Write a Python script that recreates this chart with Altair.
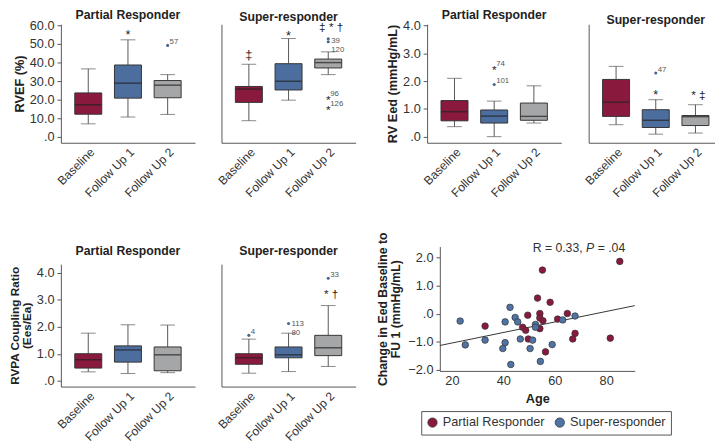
import altair as alt
import pandas as pd

FONT = "Liberation Sans"
TIMES = ["Baseline", "Follow Up 1", "Follow Up 2"]
TIME_COLORS = ["#8a1a3d", "#4c6e9f", "#a5a6a8"]
GROUPS = ["Partial Responder", "Super-responder"]
GROUP_COLORS = ["#8a1a3d", "#5073a6"]
STATS = ["low", "q1", "median", "q3", "high"]

# box summaries per time point: (low whisker, Q1, median, Q3, high whisker)
RVEF_PARTIAL = [(6.9, 12.1, 17.2, 23.6, 36.6), (10.6, 20.8, 28.9, 38.7, 52.3), (12.0, 21.0, 27.8, 30.3, 33.5)]
RVEF_SUPER = [(8.6, 18.5, 25.7, 27.1, 39.1), (19.7, 25.2, 29.9, 39.4, 53.0), (33.5, 37.1, 40.0, 41.9, 45.8)]
EED_PARTIAL = [(0.36, 0.57, 0.90, 1.30, 2.10), (0.0, 0.49, 0.74, 0.96, 1.28), (0.49, 0.59, 0.73, 1.21, 1.83)]
EED_SUPER = [(0.43, 0.73, 1.24, 2.06, 2.53), (0.09, 0.33, 0.59, 0.97, 1.33), (0.13, 0.40, 0.72, 0.76, 1.15)]
RVPA_PARTIAL = [(0.34, 0.48, 0.79, 1.01, 1.77), (0.28, 0.70, 1.15, 1.30, 2.08), (0.31, 0.38, 0.97, 1.26, 2.07)]
RVPA_SUPER = [(0.29, 0.62, 0.86, 1.01, 1.55), (0.35, 0.86, 0.97, 1.26, 1.77), (0.54, 0.94, 1.23, 1.69, 2.79)]

# outliers: (time, value, kind)
RVEF_PARTIAL_OUT = [("Follow Up 2", 49.3, "circle")]
RVEF_SUPER_OUT = [("Follow Up 2", 52.9, "circle"), ("Follow Up 2", 51.3, "circle"),
                  ("Follow Up 2", 21.3, "star"), ("Follow Up 2", 15.8, "star")]
EED_PARTIAL_OUT = [("Follow Up 1", 2.52, "star"), ("Follow Up 1", 1.88, "circle")]
EED_SUPER_OUT = [("Follow Up 1", 2.29, "circle")]
RVPA_PARTIAL_OUT = []
RVPA_SUPER_OUT = [("Baseline", 1.69, "circle"), ("Follow Up 1", 2.13, "circle"), ("Follow Up 2", 3.80, "circle")]

# case-number labels: (time, value, text)
RVEF_PARTIAL_LAB = [("Follow Up 2", 49.3, "57")]
RVEF_SUPER_LAB = [("Follow Up 2", 52.1, "39\n120"), ("Follow Up 2", 21.3, "96"), ("Follow Up 2", 15.8, "126")]
EED_PARTIAL_LAB = [("Follow Up 1", 2.52, "74"), ("Follow Up 1", 1.88, "101")]
EED_SUPER_LAB = [("Follow Up 1", 2.29, "47")]
RVPA_PARTIAL_LAB = []
RVPA_SUPER_LAB = [("Baseline", 1.69, "4"), ("Follow Up 1", 2.13, "113\n80"), ("Follow Up 2", 3.80, "33")]

# significance symbols: (time, value, text)
RVEF_PARTIAL_SIG = [("Follow Up 1", 56.0, "*")]
RVEF_SUPER_SIG = [("Baseline", 45.0, "‡"), ("Follow Up 1", 55.2, "*"), ("Follow Up 2", 59.5, "‡ * †")]
EED_PARTIAL_SIG = []
EED_SUPER_SIG = [("Follow Up 1", 1.57, "*"), ("Follow Up 2", 1.55, "* ‡")]
RVPA_PARTIAL_SIG = []
RVPA_SUPER_SIG = [("Follow Up 2", 3.24, "* †")]

# scatter: age vs change in Eed baseline to FU1
AGE_PARTIAL = [85.3, 55.2, 53.3, 58.2, 54.2, 64.9, 49.5, 54.2, 55.4, 61.1, 32.9, 47.5, 48.7, 54.2, 49.7, 67.9, 67.0, 81.6, 56.4]
CHG_PARTIAL = [1.87, 1.56, 0.56, 0.41, 0.01, 0.01, -0.05, -0.15, -0.25, -0.19, -0.44, -0.48, -0.59, -0.53, -0.90, -0.70, -0.90, -0.87, -1.36]
AGE_SUPER = [23.2, 25.2, 32.9, 40.7, 40.7, 39.8, 42.6, 42.9, 44.6, 45.6, 46.6, 51.4, 50.4, 52.5, 52.5, 54.4, 59.0, 63.1, 67.9]
CHG_SUPER = [-0.26, -1.11, -0.94, -0.29, -1.03, -1.24, 0.23, -1.81, -0.13, -0.29, -0.90, -0.94, -1.24, -0.38, -0.48, -1.70, -1.10, -0.22, -0.08]
STAT_TEXT = ["R = 0.33,", "P", "= .04"]

LINE = "#555555"
TXT = "#333333"
W = 137
SHIFT = 13  # scatter plot sits a little right of the panel above it


def box_panel(title, rows, outs, labs, sigs, domain, ticks, ytitle, left, height, toff, tsize=13):
    sdf = pd.DataFrame([dict(time=t, **dict(zip(STATS, r))) for t, r in zip(TIMES, rows)])
    xenc = alt.X("time:N", sort=TIMES,
                 scale=alt.Scale(domain=TIMES, paddingInner=0.32, paddingOuter=0.35),
                 axis=alt.Axis(title=None, labelAngle=-45, ticks=False, labelFontSize=12.3,
                               labelColor=TXT, domainColor=LINE, labelPadding=3))
    yscale = alt.Scale(domain=domain, nice=False, zero=False)
    if left:
        yaxis = alt.Axis(title=ytitle, values=ticks,
                         labelExpr="datum.value == 0 ? '.0' : format(datum.value, '.1f')",
                         tickSize=4, tickColor=LINE, domainColor=LINE, labelFontSize=13,
                         labelColor=TXT, labelPadding=3, titleFontSize=tsize, titleFontWeight="bold",
                         titleColor="#222", titlePadding=3, titleLineHeight=12, grid=False)
    else:
        yaxis = alt.Axis(title=None, labels=False, ticks=False, domainColor=LINE, grid=False)

    def Y(f):
        return alt.Y(f"{f}:Q", scale=yscale, axis=yaxis)

    color = alt.Color("time:N", scale=alt.Scale(domain=TIMES, range=TIME_COLORS), legend=None)
    base = alt.Chart(sdf)
    layers = [
        base.mark_rule(color=LINE, strokeWidth=1).encode(x=xenc, y=Y("low"), y2="q1"),
        base.mark_rule(color=LINE, strokeWidth=1).encode(x=xenc, y=Y("q3"), y2="high"),
        base.mark_tick(color=LINE, size=15, thickness=1).encode(x=xenc, y=Y("low")),
        base.mark_tick(color=LINE, size=15, thickness=1).encode(x=xenc, y=Y("high")),
        base.mark_bar(stroke="#333", strokeWidth=1).encode(x=xenc, y=Y("q1"), y2="q3", color=color),
        base.mark_tick(color="#222", size=27, thickness=1.5).encode(x=xenc, y=Y("median")),
    ]
    if outs:
        odf = pd.DataFrame(outs, columns=["time", "value", "kind"])
        circ = odf[odf.kind == "circle"]
        star = odf[odf.kind == "star"]
        if len(circ):
            layers.append(alt.Chart(circ).mark_point(filled=True, size=10, color="#4a6591", opacity=1)
                          .encode(x=xenc, y=Y("value")))
        if len(star):
            layers.append(alt.Chart(star).mark_text(text="*", fontSize=12, color="#222", dy=3)
                          .encode(x=xenc, y=Y("value")))
    if labs:
        ldf = pd.DataFrame(labs, columns=["time", "value", "text"])
        single = ldf[~ldf.text.str.contains("\n")]
        multi = ldf[ldf.text.str.contains("\n")]
        if len(single):
            layers.append(alt.Chart(single).mark_text(align="left", baseline="bottom", dx=2, dy=1,
                                                      fontSize=8, color="#555")
                          .encode(x=xenc, y=Y("value"), text="text:N"))
        if len(multi):
            layers.append(alt.Chart(multi).mark_text(align="left", baseline="middle", dx=3, dy=1,
                                                     fontSize=8, color="#555", lineBreak="\n",
                                                     lineHeight=9)
                          .encode(x=xenc, y=Y("value"), text="text:N"))
    if sigs:
        gdf = pd.DataFrame(sigs, columns=["time", "value", "text"])
        multi_sym = gdf[gdf.text.str.len() > 1]
        one_sym = gdf[gdf.text.str.len() == 1]
        if len(one_sym):
            layers.append(alt.Chart(one_sym).mark_text(fontSize=13, color="#222", baseline="middle", dy=2)
                          .encode(x=xenc, y=Y("value"), text="text:N"))
        if len(multi_sym):
            layers.append(alt.Chart(multi_sym).mark_text(fontSize=12, color="#222", baseline="middle",
                                                         dy=1, dx=3)
                          .encode(x=xenc, y=Y("value"), text="text:N"))
    return alt.layer(*layers).properties(
        width=W, height=height,
        title=alt.Title(title, fontSize=12.5, fontWeight="bold", color="#222", offset=toff))


A1 = box_panel("Partial Responder", RVEF_PARTIAL, RVEF_PARTIAL_OUT, RVEF_PARTIAL_LAB, RVEF_PARTIAL_SIG,
               [-3.32, 60.7], [0, 10, 20, 30, 40, 50, 60], "RVEF (%)", True, 121, -2)
A2 = box_panel("Super-responder", RVEF_SUPER, RVEF_SUPER_OUT, RVEF_SUPER_LAB, RVEF_SUPER_SIG,
               [-3.32, 60.7], None, None, False, 121, -2)
B1 = box_panel("Partial Responder", EED_PARTIAL, EED_PARTIAL_OUT, EED_PARTIAL_LAB, EED_PARTIAL_SIG,
               [-0.22, 4.046], [0, 1, 2, 3, 4], "RV Eed (mmHg/mL)", True, 121, -2)
B2 = box_panel("Super-responder", EED_SUPER, EED_SUPER_OUT, EED_SUPER_LAB, EED_SUPER_SIG,
               [-0.22, 4.046], None, None, False, 121, -2)
C1 = box_panel("Partial Responder", RVPA_PARTIAL, RVPA_PARTIAL_OUT, RVPA_PARTIAL_LAB, RVPA_PARTIAL_SIG,
               [-0.205, 4.32], [0, 1, 2, 3, 4], ["RVPA Coupling Ratio", "(Ees/Ea)"], True, 125, 7, 12)
C2 = box_panel("Super-responder", RVPA_SUPER, RVPA_SUPER_OUT, RVPA_SUPER_LAB, RVPA_SUPER_SIG,
               [-0.205, 4.32], None, None, False, 125, 7)

sc_df = pd.DataFrame({
    "age": AGE_PARTIAL + AGE_SUPER,
    "change": CHG_PARTIAL + CHG_SUPER,
    "group": [GROUPS[0]] * len(AGE_PARTIAL) + [GROUPS[1]] * len(AGE_SUPER),
})
xs = alt.Scale(domain=[15.3, 91.1], range=[SHIFT, 199 + SHIFT], nice=False, zero=False)
ys = alt.Scale(domain=[-2.04, 2.4], nice=False, zero=False)
sx_axis = alt.Axis(title="Age", values=[20, 40, 60, 80], ticks=False, labelFontSize=13, labelColor=TXT,
                   domainColor=LINE, titleFontSize=13, titleFontWeight="bold", titleColor="#222",
                   grid=False, labelPadding=4, titlePadding=5)
sy_axis = alt.Axis(title=["Change in Eed Baseline to", "FU 1 (mmHg/mL)"], values=[-2, -1, 0, 1, 2],
                   labelExpr="datum.value == 0 ? '.0' : format(datum.value, '.1f')",
                   tickSize=4, tickColor=LINE, domainColor=LINE, labelFontSize=13, labelColor=TXT,
                   titleFontSize=12.5, titleFontWeight="bold", titleColor="#222", grid=False,
                   labelPadding=3, titlePadding=6, titleLineHeight=13, offset=-SHIFT)
sbase = alt.Chart(sc_df)
pts = sbase.mark_point(filled=True, size=45, stroke="#333", strokeWidth=0.7, opacity=1).encode(
    x=alt.X("age:Q", scale=xs, axis=sx_axis),
    y=alt.Y("change:Q", scale=ys, axis=sy_axis),
    color=alt.Color("group:N", scale=alt.Scale(domain=GROUPS, range=GROUP_COLORS),
                    legend=alt.Legend(title=None, orient="none", legendX=-6, legendY=168,
                                      direction="horizontal",
                                      strokeColor=LINE, padding=5,
                                      symbolSize=90, symbolStrokeColor="#333", symbolStrokeWidth=0.8,
                                      labelFontSize=13, labelColor=TXT, columnPadding=8,
                                      symbolType="circle")),
)
reg = sbase.transform_regression("age", "change", extent=[15.3, 91.1]).mark_line(
    color="#333", strokeWidth=1).encode(x=alt.X("age:Q", scale=xs, axis=sx_axis),
                                        y=alt.Y("change:Q", scale=ys, axis=sy_axis))
ann_df = pd.DataFrame({"age": [51.4], "change": [2.355]})
offs = [0, 54.6, 66.4]
ann = []
for txt, dx in zip(STAT_TEXT, offs):
    ann.append(alt.Chart(ann_df).mark_text(text=txt, align="left", baseline="middle", dx=dx,
                                           fontSize=12.5, color=TXT,
                                           fontStyle="italic" if txt == "P" else "normal")
               .encode(x=alt.X("age:Q", scale=xs, axis=sx_axis),
                       y=alt.Y("change:Q", scale=ys, axis=sy_axis)))
scatter = alt.layer(reg, pts, *ann).properties(width=199 + SHIFT, height=127)


def indep(c):
    return c.resolve_scale(color="independent").resolve_legend(color="independent")


left = indep(alt.vconcat(indep(alt.hconcat(A1, A2, spacing=21)),
                         indep(alt.hconcat(C1, C2, spacing=21)), spacing=46))
right = indep(alt.vconcat(indep(alt.hconcat(B1, B2, spacing=22)), scatter, spacing=33))
chart = indep(alt.hconcat(left, right, spacing=21)).properties(
    padding={"left": 0, "top": -4, "right": -8, "bottom": -4}
).configure(font=FONT).configure_view(stroke=None)

chart.save("out.html", embed_options={"renderer": "svg", "actions": False})
